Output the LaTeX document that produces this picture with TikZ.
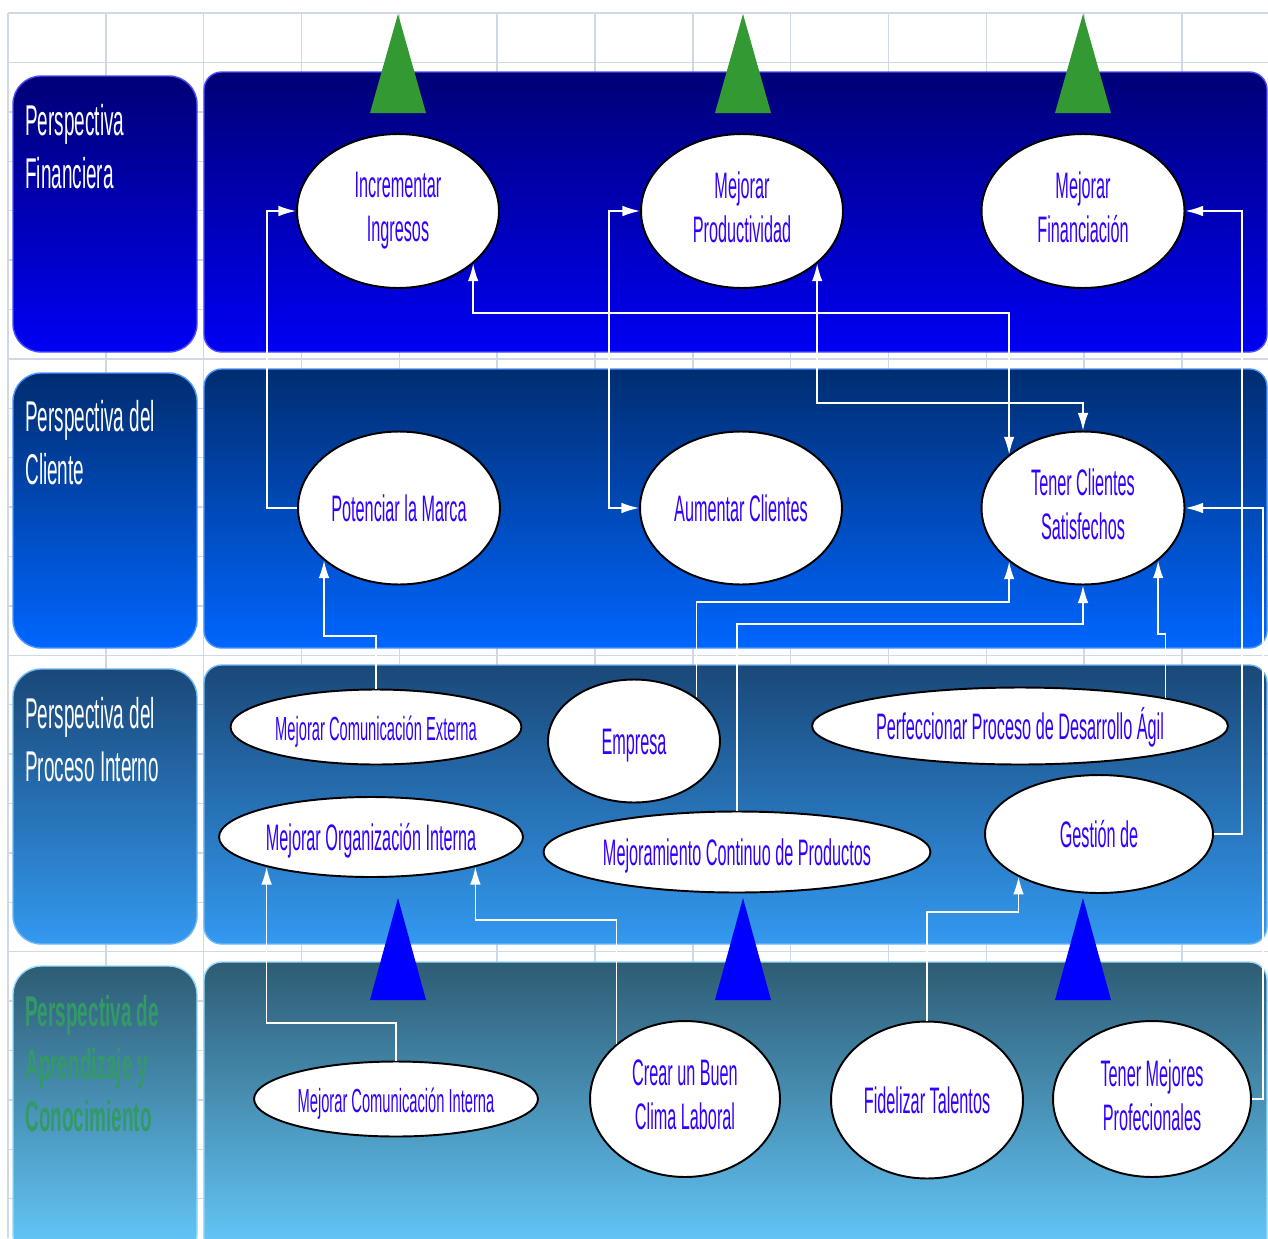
\documentclass[tikz,border=0pt]{standalone}
\usepackage{fontspec}
\newfontfamily\narrow[FakeStretch=0.44]{Liberation Sans}
\usetikzlibrary{shapes.geometric,arrows.meta}

\definecolor{finTop}{RGB}{0,0,118}
\definecolor{finBot}{RGB}{0,0,245}
\definecolor{cliTop}{RGB}{0,45,112}
\definecolor{cliBot}{RGB}{0,102,255}
\definecolor{proTop}{RGB}{26,72,120}
\definecolor{proBot}{RGB}{51,153,240}
\definecolor{aprTop}{RGB}{46,92,116}
\definecolor{aprBot}{RGB}{102,204,255}
\definecolor{ovalText}{RGB}{51,0,255}
\definecolor{gridGray}{RGB}{208,215,229}
\definecolor{triGreen}{RGB}{51,153,51}
\definecolor{labGreen}{RGB}{51,153,102}

\newcommand\ovalstrut{\rule[-4.5pt]{0pt}{24pt}}

\begin{document}
\begin{tikzpicture}[x=0.02cm,y=-0.02cm,
    gridline/.style={draw=gridGray,line width=0.8pt},
    oval/.style={ellipse,draw=black,line width=1.1pt,fill=white,inner sep=0pt,
      text=ovalText,align=center,font=\narrow\fontsize{21}{25}\selectfont,
      execute at begin node=\ovalstrut,execute at end node=\ovalstrut},
    persp/.style={anchor=north west,inner sep=0pt,text=white,align=left,
      font=\narrow\fontsize{24.5}{30}\selectfont},
    link/.style={draw=white,line width=0.8pt,-{Latex[length=10pt,width=6pt]}},
    linkboth/.style={link,{Latex[length=10pt,width=6pt]}-{Latex[length=10pt,width=6pt]}}]
    \useasboundingbox (0,0) rectangle (1268,1238);
    \clip (0,0) rectangle (1268,1238);
    \fill[white] (0,0) rectangle (1268,1238);

    % hoja de calculo
    \foreach \gx in {0,...,12}
        \draw[gridline] ({8+97.83*\gx},13) -- ({8+97.83*\gx},1238);
    \foreach \gy in {0,...,24}
        \draw[gridline] (8,{13+49.4*\gy}) -- (1268,{13+49.4*\gy});

    % franjas
    \foreach \yt/\yb/\ct/\cb in {72/352/finTop/finBot,369/648/cliTop/cliBot,
                                 665/944/proTop/proBot,962/1262/aprTop/aprBot}{
        \shade[top color=\ct,bottom color=\cb,draw=\cb!70!white,line width=0.8pt,rounded corners=16pt]
            (13,\yt+4) rectangle (197,\yb);
        \shade[top color=\ct,bottom color=\cb,draw=\cb!70!white,line width=0.8pt,rounded corners=10pt]
            (204,\yt) rectangle (1267,\yb);
    }

    \node[persp] (lfin) at (25,104) {Perspectiva\\Financiera};
    \node[persp] (lcli) at (25,400) {Perspectiva del\\Cliente};
    \node[persp] (lpro) at (25,697) {Perspectiva del\\Proceso Interno};
    \node[persp,text=labGreen,font=\narrow\bfseries\fontsize{24.5}{30}\selectfont] (lapr) at (25,995)
        {Perspectiva de\\Aprendizaje y\\Conocimiento};

    \foreach \tx in {398,743,1083}{
        \fill[triGreen] (\tx,14) -- (\tx+28,113) -- (\tx-28,113) -- cycle;
        \fill[blue] (\tx,898) -- (\tx+28,1000) -- (\tx-28,1000) -- cycle;
    }

    % objetivos
    \node[oval,minimum width=4.04cm,minimum height=3.08cm] (inc) at (398,211) {Incrementar\\Ingresos};
    \node[oval,minimum width=4.04cm,minimum height=3.08cm] (prod) at (742,211) {Mejorar\\Productividad};
    \node[oval,minimum width=4.06cm,minimum height=3.08cm] (fin) at (1083,211) {Mejorar\\Financiación};

    \node[oval,minimum width=4.04cm,minimum height=3.06cm] (pot) at (399,508) {Potenciar la Marca};
    \node[oval,minimum width=4.04cm,minimum height=3.06cm] (aum) at (741,508) {Aumentar Clientes};
    \node[oval,minimum width=4.06cm,minimum height=3.06cm] (sat) at (1083,508) {Tener Clientes\\Satisfechos};

    \node[oval,minimum width=5.82cm,minimum height=1.5cm,font=\narrow\fontsize{19}{23}\selectfont] (ext) at (376,727) {Mejorar Comunicación Externa};
    \node[oval,minimum width=3.44cm,minimum height=2.46cm] (emp) at (634,741) {Empresa};
    \node[oval,minimum width=8.32cm,minimum height=1.54cm] (agil) at (1020,726) {Perfeccionar Proceso de Desarrollo Ágil};
    \node[oval,minimum width=6.08cm,minimum height=1.6cm] (org) at (371,837) {Mejorar Organización Interna};
    \node[oval,minimum width=7.74cm,minimum height=1.62cm] (mcp) at (737,852) {Mejoramiento Continuo de Productos};
    \node[oval,minimum width=4.56cm,minimum height=2.36cm] (ges) at (1099,834) {Gestión de};

    \node[oval,minimum width=5.68cm,minimum height=1.5cm,font=\narrow\fontsize{19}{23}\selectfont] (com) at (396,1099) {Mejorar Comunicación Interna};
    \node[oval,minimum width=3.8cm,minimum height=3.12cm] (clima) at (685,1099) {Crear un Buen\\Clima Laboral};
    \node[oval,minimum width=3.84cm,minimum height=3.14cm] (fid) at (927,1100) {Fidelizar Talentos};
    \node[oval,minimum width=3.96cm,minimum height=3.12cm] (prof) at (1152,1099) {Tener Mejores\\Profecionales};

    % relaciones
    \draw[link] (pot.west) -- ++(-30,0) |- (inc.west);
    \draw[linkboth] (prod.west) -- ++(-31,0) |- (aum.west);
    \draw[linkboth] (inc.-35) -- (inc.-35 |- 0,313) -| (sat.144);
    \draw[linkboth] (prod.-35) -- (prod.-35 |- 0,403) -| (sat.north);
    \draw[link] (ges.east) -- ++(28,0) |- (fin.east);
    \draw[link] (prof.east) -- ++(11,0) |- (sat.east);
    \draw[link] (emp.35) -- (emp.35 |- 0,602) -| (sat.216);
    \draw[link] (mcp.north) -- (mcp.north |- 0,624) -| (sat.south);
    \draw[link] (agil.11) -- (agil.11 |- 0,634) -| (sat.-35);
    \draw[link] (ext.north) -- (ext.north |- 0,636) -| (pot.215);
    \draw[link] (com.north) -- (com.north |- 0,1023) -| (org.196);
    \draw[link] (clima.141) -- (clima.141 |- 0,920) -| (org.-16);
    \draw[link] (fid.north) -- (fid.north |- 0,912) -| (ges.208);
\end{tikzpicture}
\end{document}
